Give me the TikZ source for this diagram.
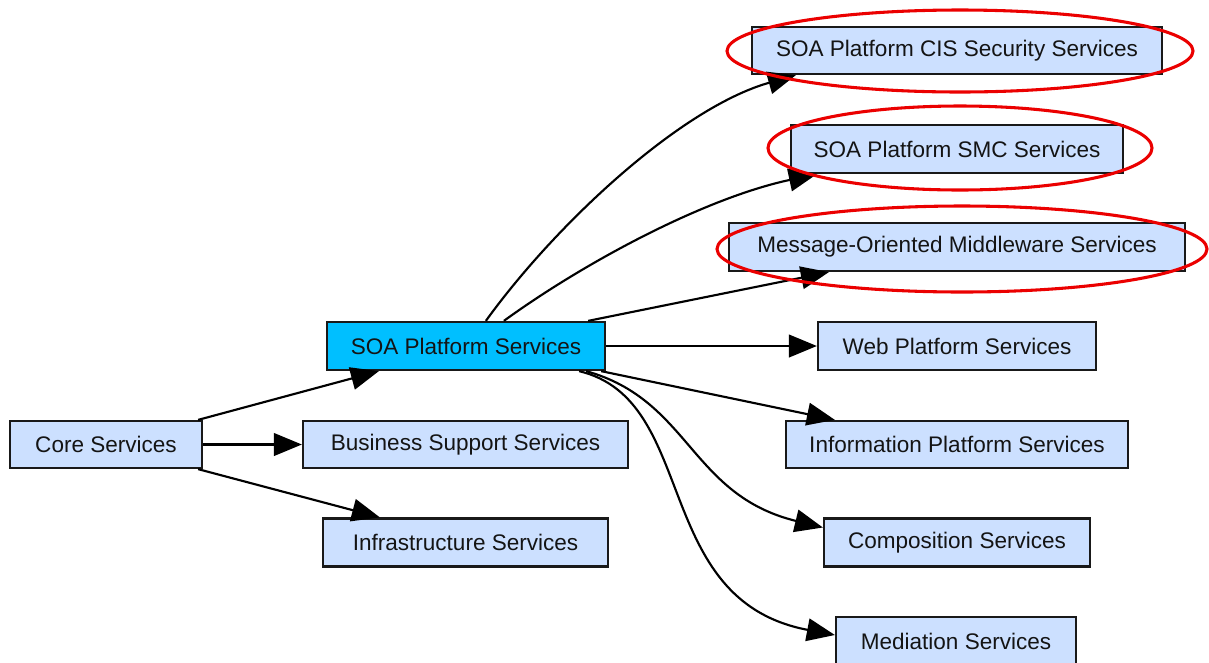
\documentclass[tikz,border=0pt]{standalone}
\usepackage{fontspec}
\setmainfont{Liberation Sans}
\usetikzlibrary{arrows.meta,calc}
\definecolor{boxfill}{RGB}{204,224,255}
\definecolor{soafill}{RGB}{0,191,255}
\definecolor{boxline}{RGB}{25,25,25}
\definecolor{hlred}{RGB}{235,0,0}
\begin{document}
\begin{tikzpicture}[x=0.75pt,y=-0.75pt,
  svc/.style={draw=boxline,line width=1.7pt,fill=boxfill,rectangle,inner sep=0pt,
    font=\fontsize{16.9}{20}\selectfont,text=black!92},
  edge/.style={line width=1.6pt,-{Triangle[length=21pt,width=17pt]}},
  hl/.style={draw=hlred,line width=2.3pt}]
\useasboundingbox (0,0) rectangle (1209,662);
% nodes
\node[svc,minimum width=144pt,minimum height=35.25pt] (core) at (106,444.5) {Core Services};
\node[svc,minimum width=243.75pt,minimum height=35.25pt] (bss) at (465.5,444.5) {Business Support Services};
\node[svc,minimum width=213.75pt,minimum height=36pt] (infra) at (465.5,542.5) {Infrastructure Services};
\node[svc,fill=soafill,minimum width=208.5pt,minimum height=36pt] (soa) at (466,346) {SOA Platform Services};
\node[svc,minimum width=307.5pt,minimum height=35.25pt] (cis) at (957,50.5) {SOA Platform CIS Security Services};
\node[svc,minimum width=249pt,minimum height=36pt] (smc) at (957,149) {SOA Platform SMC Services};
\node[svc,minimum width=342pt,minimum height=36pt] (mom) at (957,247) {Message-Oriented Middleware Services};
\node[svc,minimum width=208.5pt,minimum height=36pt] (web) at (957,346) {Web Platform Services};
\node[svc,minimum width=256.5pt,minimum height=35.25pt] (info) at (957,444.5) {Information Platform Services};
\node[svc,minimum width=199.5pt,minimum height=36pt] (comp) at (957,542.5) {Composition Services};
\node[svc,minimum width=180pt,minimum height=36pt] (med) at (956,641) {Mediation Services};
% edges from Core
\draw[edge] ($(core.north east)+(-5,0)$) -- ($(soa.south west)+(53,0)$);
\draw[edge] (core.east) -- (bss.west);
\draw[edge] ($(core.south east)+(-5,0)$) -- ($(infra.north west)+(58,0)$);
% edges from SOA Platform
\draw[edge] ($(soa.north west)+(160,0)$) .. controls (555,225) and (680,108) .. ($(cis.south west)+(45,0)$);
\draw[edge] ($(soa.north west)+(178,0)$) .. controls (585,262) and (705,198) .. ($(smc.south west)+(27,0)$);
\draw[edge] ($(soa.north east)+(-18,0)$) -- ($(mom.south west)+(101,0)$);
\draw[edge] (soa.east) -- (web.west);
\draw[edge] ($(soa.south east)+(-5,0)$) -- ($(info.north west)+(50,0)$);
\draw[edge] ($(soa.south east)+(-20,0)$) .. controls (690,400) and (690,495) .. ($(comp.west)+(0,-15)$);
\draw[edge] ($(soa.south east)+(-27,0)$) .. controls (700,400) and (650,600) .. ($(med.west)+(0,-6)$);
% highlight ellipses
\draw[hl] (960,51) ellipse [x radius=233, y radius=41];
\draw[hl] (960,148) ellipse [x radius=192, y radius=42];
\draw[hl] (962,249) ellipse [x radius=245, y radius=43];
\end{tikzpicture}
\end{document}
